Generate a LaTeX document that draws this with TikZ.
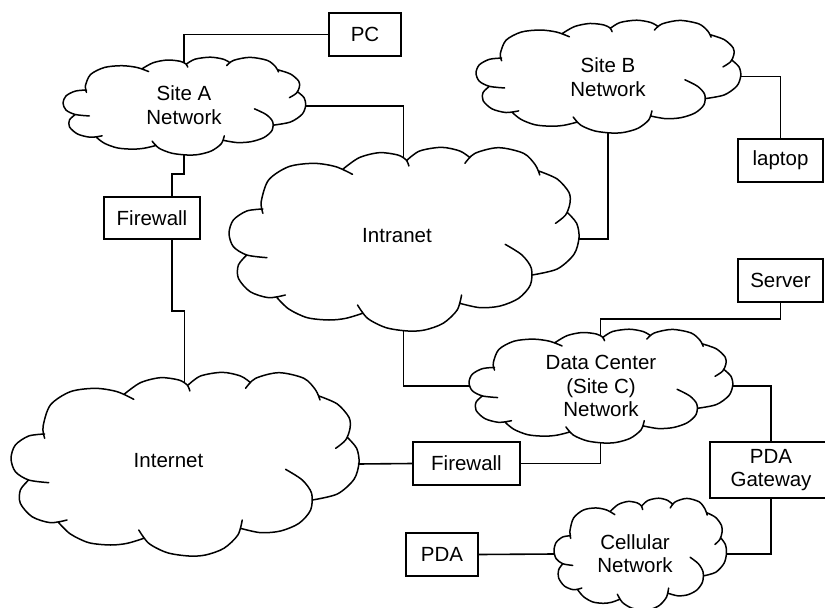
\documentclass[tikz,border=0pt]{standalone}
\usepackage{fontspec}
\setmainfont{Liberation Sans}
\usetikzlibrary{calc}
\newcommand\drawcloud[3]{%
 \draw[cloudline, shift={(#1.center)}, xscale=#2/520, yscale=#3/276]
  plot[smooth] coordinates {(-419,-90)(-467,-84)(-507,-57)(-520,-17)(-507,23)(-467,48)(-407,56)}
  plot[smooth] coordinates {(-419,-77)(-424,-112)(-402,-177)(-342,-217)(-267,-227)(-202,-217)(-152,-194)}
  plot[smooth] coordinates {(-180,-210)(-132,-244)(-72,-259)(-17,-252)(8,-237)(16,-219)}
  plot[smooth] coordinates {(11,-237)(48,-264)(113,-275)(168,-264)(198,-244)}
  plot[smooth] coordinates {(183,-227)(213,-257)(283,-274)(358,-257)(393,-222)(406,-192)}
  plot[smooth] coordinates {(403,-204)(458,-180)(493,-140)(496,-107)(483,-72)(453,-47)}
  plot[smooth] coordinates {(488,-80)(516,-47)(523,-4)(508,46)(458,90)(383,108)}
  plot[smooth] coordinates {(303,16)(353,48)(381,88)(378,138)(343,178)(288,201)(228,206)(168,193)}
  plot[smooth] coordinates {(173,168)(160,213)(118,253)(63,273)(13,276)(-52,266)(-107,238)(-137,198)}
  plot[smooth] coordinates {(-122,223)(-172,238)(-222,243)(-287,236)(-342,210)(-377,176)}
  plot[smooth] coordinates {(-352,168)(-402,176)(-457,158)(-492,118)(-492,78)(-467,48)};}
\begin{document}
\begin{tikzpicture}[x=1pt,y=-1pt,
  font=\fontsize{20.5}{23.5}\selectfont,
  box/.style={draw, line width=1.7pt, inner sep=0pt, align=center},
  cloudarea/.style={inner sep=0pt, outer sep=0pt, draw=none},
  wire/.style={line width=1.6pt},
  cloudline/.style={line width=1.5pt, line join=round, line cap=round},
  lbl/.style={align=center, inner sep=0pt}]
\useasboundingbox (0,0) rectangle (825,608);

% boxes
\node[box, minimum width=72pt, minimum height=43pt] (pc) at (365,34.5) {PC};
\node[box, minimum width=96pt, minimum height=42pt] (fw1) at (152,218) {Firewall};
\node[box, minimum width=85pt, minimum height=43pt] (laptop) at (780.5,160.5) {laptop};
\node[box, minimum width=85pt, minimum height=43pt] (server) at (780.5,280.5) {Server};
\node[box, minimum width=107pt, minimum height=43pt] (fw2) at (466.5,463.5) {Firewall};
\node[box, minimum width=122pt, minimum height=56pt] (gw) at (771,470) {PDA\\Gateway};
\node[box, minimum width=72pt, minimum height=43pt] (pda) at (442,554.5) {PDA};

% cloud areas
\node[cloudarea, minimum width=242pt, minimum height=98pt] (siteA) at (184,106) {};
\node[cloudarea, minimum width=347pt, minimum height=184pt] (inet) at (184.5,464) {};
\node[cloudarea, minimum width=349pt, minimum height=184pt] (intra) at (403.5,239) {};
\node[cloudarea, minimum width=264pt, minimum height=113pt] (siteB) at (608,76.5) {};
\node[cloudarea, minimum width=263pt, minimum height=114pt] (dc) at (600.5,386) {};
\node[cloudarea, minimum width=172pt, minimum height=112pt] (cell) at (640,554) {};

\drawcloud{siteA}{121}{49}
\drawcloud{inet}{173.5}{92}
\drawcloud{intra}{174.5}{92}
\drawcloud{siteB}{132}{56.5}
\drawcloud{dc}{131.5}{57}
\drawcloud{cell}{86}{56}

% cloud labels
\node[lbl] (siteAtext) at (184,105) {Site A\\Network};
\node[lbl] (inettext) at (168.5,461) {Internet};
\node[lbl] (intratext) at (397,236) {Intranet};
\node[lbl] (siteBtext) at (608,77) {Site B\\Network};
\node[lbl] (dctext) at (601,386) {Data Center\\(Site C)\\Network};
\node[lbl] (celltext) at (635,553.5) {Cellular\\Network};

% top attachment points
\coordinate (siteAtop) at ($(siteA.center)!0.877!(siteA.north)$);
\coordinate (inettop) at ($(inet.center)!0.877!(inet.north)$);
\coordinate (intratop) at ($(intra.center)!0.877!(intra.north)$);
\coordinate (dctop) at ($(dc.center)!0.877!(dc.north)$);

% connectors
\draw[wire] (pc.west) -| (siteAtop);
\draw[wire] (siteA.east) -| (intratop);
\draw[wire] (siteA.south) -- ++(0,19) -| ([xshift=20pt]fw1.north);
\draw[wire] ([xshift=20pt]fw1.south) -- ++(0,71) -| (inettop);
\draw[wire] (siteB.south) |- (intra.east);
\draw[wire] (siteB.east) -| (laptop.north);
\draw[wire] (intra.south) |- (dc.west);
\draw[wire] (server.south) -- ++(0,16) -| (dctop);
\draw[wire] (dc.south) |- (fw2.east);
\draw[wire] (fw2.west) -- (inet.east);
\draw[wire] (dc.east) -| (gw.north);
\draw[wire] (gw.south) |- (cell.east);
\draw[wire] (pda.east) -- (cell.west);
\end{tikzpicture}
\end{document}
